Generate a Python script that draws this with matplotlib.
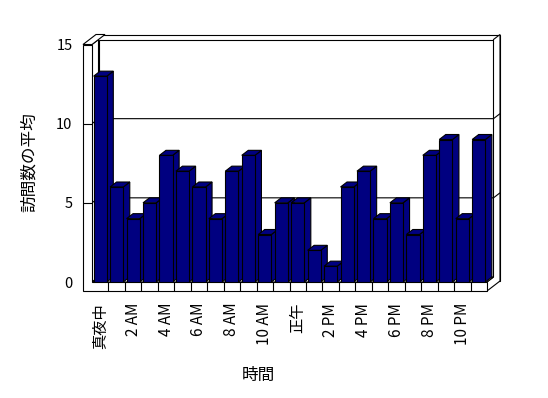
import matplotlib
matplotlib.use("Agg")
import matplotlib.pyplot as plt
from matplotlib.patches import Polygon

plt.rcParams['font.family'] = ['Noto Sans CJK JP', 'DejaVu Sans']

# average visits per hour (0 = midnight)
hours = list(range(24))
visits = [13, 6, 4, 5, 8, 7, 6, 4, 7, 8, 3, 5, 5, 2, 1, 6, 7, 4, 5, 3, 8, 9, 4, 9]
tick_labels = ["真夜中", "2 AM", "4 AM", "6 AM", "8 AM", "10 AM",
               "正午", "2 PM", "4 PM", "6 PM", "8 PM", "10 PM"]
y_ticks = [0, 5, 10, 15]

W, H = 548, 398
fig = plt.figure(figsize=(W / 100, H / 100), dpi=100)
# axes = front plane of the 3D box
ax = fig.add_axes([92 / W, (H - 282) / H, 395 / W, 237.5 / H])
n = len(visits)
ymax = 15
ax.set_xlim(0, n)
ax.set_ylim(0, ymax)
for s in ax.spines.values():
    s.set_visible(False)
ax.patch.set_visible(False)

# depth offsets in data units
px_x = n / 395
px_y = ymax / 237.5
dx, dy = 6.5 * px_x, 5 * px_y      # front plane -> back wall
dx2, dy2 = 2 * dx, 2 * dy          # back side of the wall slabs
wt = 9 * px_x                      # left wall thickness
ft = 9 * px_y                      # floor thickness
lw = 0.8


def poly(pts, fc='white', z=1):
    ax.add_patch(Polygon(pts, closed=True, facecolor=fc, edgecolor='black',
                         lw=lw, zorder=z, clip_on=False, joinstyle='miter'))


def line(xs, ys, z=3):
    ax.plot(xs, ys, color='black', lw=lw, zorder=z, clip_on=False,
            solid_capstyle='butt')


# walls and floor
poly([(-wt + dx2, -ft + dy2), (n + dx2, -ft + dy2),
      (n + dx2, ymax + dy2), (-wt + dx2, ymax + dy2)], z=1)
poly([(dx, dy), (n + dx, dy), (n + dx, ymax + dy), (dx, ymax + dy)], z=2)
poly([(n, -ft), (n + dx2, -ft + dy2), (n + dx2, ymax + dy2),
      (n + dx, ymax + dy), (n + dx, dy), (n, 0)], z=2)
for v in y_ticks[1:-1]:
    line([dx, n + dx, n + dx2], [v + dy, v + dy, v + dy2])
poly([(0, 0), (dx, dy), (dx, ymax + dy), (0, ymax)], z=4)
for v in y_ticks[1:-1]:
    line([0, dx], [v, v + dy], z=4.5)
poly([(0, 0), (n, 0), (n + dx, dy), (dx, dy)], z=4)
poly([(-wt, ymax), (0, ymax), (dx2, ymax + dy2), (-wt + dx2, ymax + dy2)], z=4)
poly([(-wt, -ft), (n, -ft), (n, 0), (0, 0), (0, ymax), (-wt, ymax)], z=5)
for i in hours[1:]:
    line([i, i], [-ft, 0], z=6)
for v in y_ticks[1:-1]:
    line([-wt, 0], [v, v], z=6)

# bars
bw = 0.8
navy = '#000080'
bars = ax.bar([h + 0.5 for h in hours], visits, width=bw, color=navy,
              edgecolor='black', linewidth=lw)
for i, (rect, v) in enumerate(zip(bars, visits)):
    x0 = rect.get_x()
    x1 = x0 + rect.get_width()
    rect.set_zorder(10 + 2 * i + 1)
    poly([(x1, 0), (x1 + dx, dy), (x1 + dx, v + dy), (x1, v)], fc=navy, z=10 + 2 * i)
    poly([(x0, v), (x1, v), (x1 + dx, v + dy), (x0 + dx, v + dy)], fc=navy, z=10 + 2 * i)

ax.set_xticks([h + 0.5 for h in hours[::2]])
ax.set_xticklabels(tick_labels, rotation=90, fontsize=11)
ax.tick_params(axis='x', length=0, pad=15)
ax.set_yticks(y_ticks)
ax.tick_params(axis='y', length=0, pad=14, labelsize=10.5)

ax.set_xlabel('時間', fontsize=12)
ax.xaxis.set_label_coords(0.42, -0.358)
ax.set_ylabel('訪問数の平均', fontsize=12)
ax.yaxis.set_label_coords(-0.137, 0.505)

fig.savefig('out.png', dpi=100)
